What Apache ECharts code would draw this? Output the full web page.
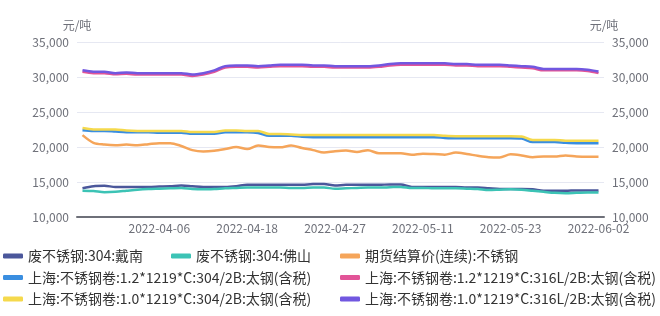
<!DOCTYPE html>
<html>
<head>
<meta charset="utf-8">
<script src="https://cdn.jsdelivr.net/npm/echarts@6/dist/echarts.min.js"></script>
<style>
html,body{margin:0;padding:0;background:#fff;}
#c{width:660px;height:316px;}
</style>
</head>
<body>
<div id="c"></div>
<script>
var dates = ["2022-03-25","2022-03-28","2022-03-29","2022-03-30","2022-03-31","2022-04-01","2022-04-02",
"2022-04-06","2022-04-07","2022-04-08","2022-04-11","2022-04-12","2022-04-13","2022-04-14","2022-04-15",
"2022-04-18","2022-04-19","2022-04-20","2022-04-21","2022-04-22","2022-04-24","2022-04-25","2022-04-26",
"2022-04-27","2022-04-28","2022-04-29","2022-05-05","2022-05-06","2022-05-07","2022-05-09","2022-05-10",
"2022-05-11","2022-05-12","2022-05-13","2022-05-16","2022-05-17","2022-05-18","2022-05-19","2022-05-20",
"2022-05-23","2022-05-24","2022-05-25","2022-05-26","2022-05-27","2022-05-30","2022-05-31","2022-06-01",
"2022-06-02"];
var tickLabels = ["2022-04-06","2022-04-18","2022-04-27","2022-05-11","2022-05-23","2022-06-02"];
var yTicks = [10000, 35000, 5000];

var names = ["废不锈钢:304:戴南","废不锈钢:304:佛山","期货结算价(连续):不锈钢",
"上海:不锈钢卷:1.2*1219*C:304/2B:太钢(含税)","上海:不锈钢卷:1.2*1219*C:316L/2B:太钢(含税)",
"上海:不锈钢卷:1.0*1219*C:304/2B:太钢(含税)","上海:不锈钢卷:1.0*1219*C:316L/2B:太钢(含税)"];

var daiNan = [14100,14400,14450,14300,14300,14300,14300,14350,14400,14500,14400,14300,14300,14300,14400,
14600,14600,14600,14600,14600,14600,14700,14700,14500,14600,14600,14600,14600,14650,14650,14300,
14300,14300,14300,14300,14200,14200,14100,14000,14000,14000,13950,13750,13750,13750,13800,13800,13800];
var foShan = [13750,13700,13550,13600,13750,13900,14000,14050,14100,14150,14000,13950,14000,14100,14150,
14200,14200,14200,14200,14150,14150,14200,14200,14050,14100,14150,14200,14200,14250,14300,14150,
14150,14100,14100,14100,14050,14000,13850,13900,13950,13900,13750,13600,13450,13400,13450,13500,13500];
var futures = [21700,20600,20350,20250,20350,20250,20400,20550,20550,20150,19550,19350,19450,19700,20000,
19700,20200,20000,19950,20200,19850,19550,19200,19400,19500,19300,19550,19100,19100,19100,18900,
19050,19000,18900,19200,19000,18750,18550,18500,18950,18800,18550,18650,18650,18800,18650,18600,18600];
var s12_304 = [22400,22300,22300,22200,22100,22100,22100,22050,22050,22050,21900,21900,21900,22100,22100,
22100,22000,21600,21600,21600,21450,21400,21400,21400,21400,21400,21400,21400,21400,21400,21400,
21400,21400,21300,21250,21250,21250,21250,21250,21250,21200,20700,20700,20700,20600,20550,20550,20550];
var s12_316 = [30750,30550,30550,30400,30450,30350,30350,30350,30350,30350,30150,30350,30750,31350,31450,
31450,31350,31450,31550,31550,31550,31450,31450,31350,31350,31350,31350,31450,31650,31750,31750,
31750,31750,31750,31650,31650,31550,31550,31550,31450,31350,31250,30950,30950,30950,30950,30850,30550];
var s10_304 = [22700,22500,22500,22500,22350,22300,22300,22300,22300,22300,22150,22150,22150,22350,22350,
22300,22300,21850,21850,21800,21700,21700,21700,21700,21700,21700,21700,21700,21700,21700,21700,
21700,21700,21600,21550,21550,21550,21550,21550,21550,21500,21000,21000,21000,20900,20900,20900,20900];
var s10_316 = [30950,30750,30750,30550,30650,30550,30550,30550,30550,30550,30350,30550,30950,31550,31650,
31650,31550,31650,31750,31750,31750,31650,31650,31550,31550,31550,31550,31650,31850,31950,31950,
31950,31950,31950,31850,31850,31750,31750,31750,31650,31550,31450,31150,31150,31150,31150,31050,30800];

var colors = ["#4b579b","#3cc3b5","#f5a55a","#3a8ee0","#e25498","#f5d94c","#7157e0"];
var seriesData = [daiNan, foShan, futures, s12_304, s12_316, s10_304, s10_316];

var chart = echarts.init(document.getElementById('c'));
var font = "'Noto Sans CJK SC','Noto Sans',sans-serif";
var legendBase = {
  orient: 'vertical', top: 248, padding: 0, itemGap: 5.5,
  itemWidth: 20, itemHeight: 5, icon: 'roundRect',
  textStyle: {fontSize: 14, color: '#333', fontFamily: font, lineHeight: 16, padding: [0,0,0,0]}
};
function lg(left, data){ var o = JSON.parse(JSON.stringify(legendBase)); o.left = left; o.data = data; return o; }

var yAxisBase = function(pos){
  return {
    type: 'value', position: pos, min: yTicks[0], max: yTicks[1], interval: yTicks[2],
    name: '元/吨', nameGap: 11, nameTextStyle: {color: '#6e7079', fontSize: 12, fontFamily: font},
    axisLine: {show: false}, axisTick: {show: false},
    axisLabel: {color: '#6e7079', fontSize: 12, fontFamily: font},
    splitLine: {lineStyle: {color: '#e6e8f2'}}
  };
};

chart.setOption({
  animation: false,
  color: colors,
  grid: {left: 77, right: 56, top: 42, bottom: 99, containLabel: false},
  legend: [lg(3, [names[0], names[3], names[5]]), lg(171, [names[1]]), lg(340, [names[2], names[4], names[6]])],
  xAxis: {
    type: 'category', data: dates, boundaryGap: true,
    axisLine: {lineStyle: {color: '#6e7079', width: 2}},
    axisTick: {show: false},
    axisLabel: {
      color: '#6e7079', fontSize: 12, fontFamily: font, margin: 5,
      interval: function(i, v){ return tickLabels.indexOf(v) >= 0; }
    }
  },
  yAxis: [yAxisBase('left'), yAxisBase('right')],
  series: seriesData.map(function(d, k){
    return {
      name: names[k], type: 'line', data: d, yAxisIndex: 0,
      showSymbol: false, symbol: 'none', smooth: 0.3,
      lineStyle: {width: 2.5, color: colors[k]}, itemStyle: {color: colors[k]}
    };
  })
});
</script>
</body>
</html>
